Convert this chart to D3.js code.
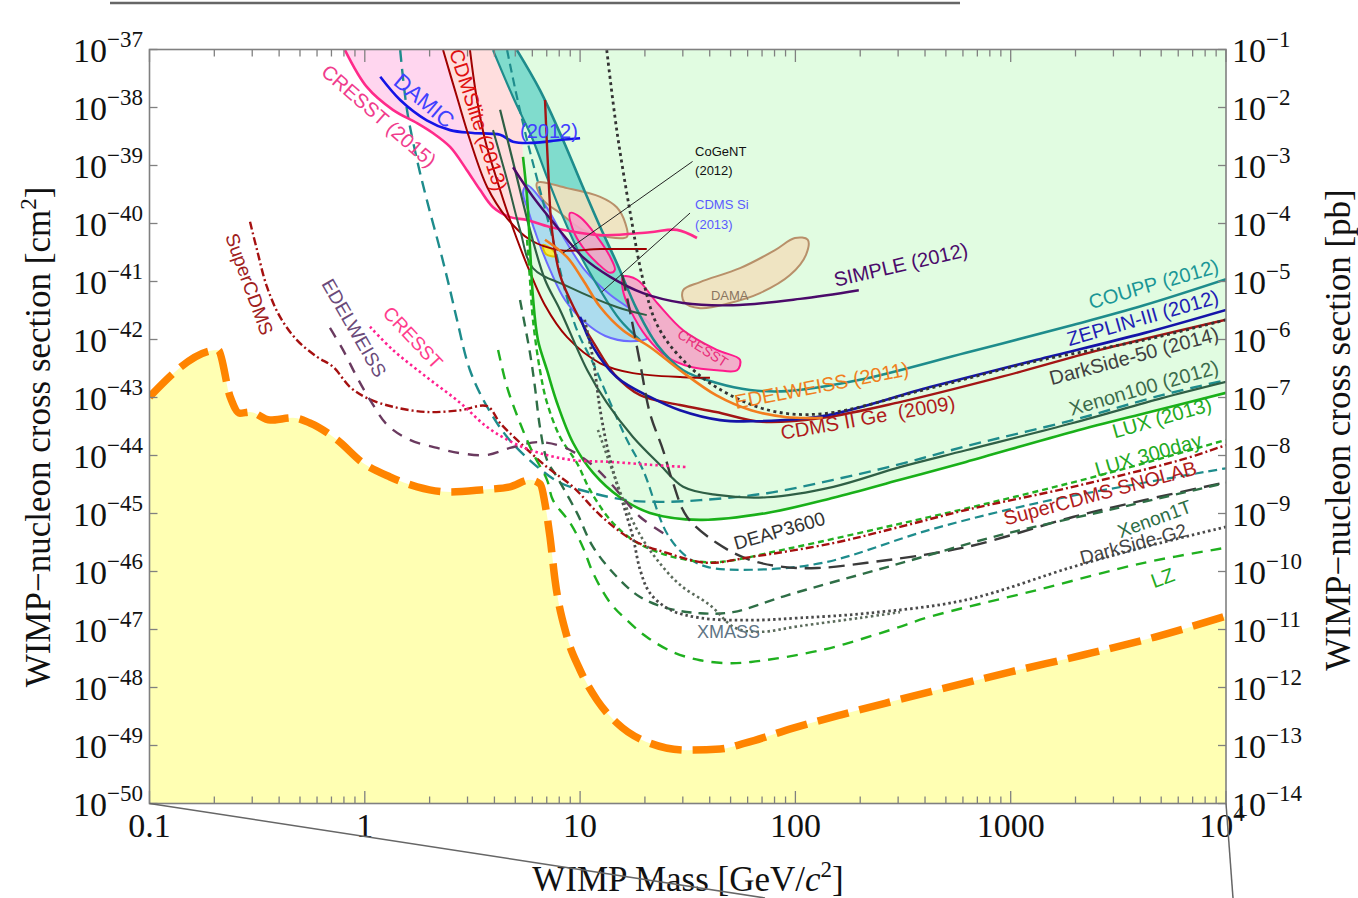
<!DOCTYPE html>
<html><head><meta charset="utf-8">
<script src="https://cdn.jsdelivr.net/npm/d3@7"></script>
<style>body{margin:0;background:#fff}svg{display:block}</style>
</head><body>
<svg id="c" width="1358" height="898"></svg>
<script>
// ---------- DATA : every point is [WIMP mass (GeV), log10 sigma (cm^2)] ----------
const xMajorTicks = [0.1, 1, 10, 100, 1000, 10000];
const xTickLabels = ["0.1", "1", "10", "100", "1000", "10|4"];
const yExpLeft = [-37,-38,-39,-40,-41,-42,-43,-44,-45,-46,-47,-48,-49,-50];
const pbOffset = 36; // 1 pb = 1e-36 cm^2

const neutrinoFloor = [[0.1,-42.99],[0.208,-42.18],[0.237,-42.99],[0.263,-43.27],[0.293,-43.25],[0.363,-43.39],[0.464,-43.35],[0.556,-43.44],[0.743,-43.73],[0.981,-44.13],[1.31,-44.37],[1.75,-44.54],[2.49,-44.63],[3.54,-44.59],[4.73,-44.54],[5.85,-44.42],[6.51,-44.49],[6.95,-44.94],[7.25,-45.41],[7.65,-46.15],[8.70,-47.13],[10.0,-47.70],[12.0,-48.22],[14.8,-48.61],[21.1,-48.96],[31.4,-49.08],[44.7,-49.06],[58.3,-48.96],[97.5,-48.70],[163,-48.47],[275,-48.25],[459,-48.04],[1000,-47.73],[2167,-47.44],[4677,-47.13],[10000,-46.77]];

const cresst2015 = [[0.809,-37.01],[1.024,-37.65],[1.35,-38.04],[1.75,-38.27],[2.07,-38.44],[2.49,-38.68],[2.98,-39.08],[3.43,-39.42],[3.94,-39.72],[4.73,-39.89],[5.67,-39.94],[7.25,-40.06],[12.4,-40.20],[21.1,-40.15],[28.2,-40.11],[34.9,-40.25]];
const cdmsliteA = [[2.31,-37.01],[2.68,-37.82],[3.08,-38.56],[3.70,-39.37],[4.58,-39.91],[5.85,-40.28],[8.07,-40.46],[12.4,-40.44],[20.4,-40.44]];
const cdmsliteB = [[3.08,-37.01],[3.29,-37.78],[3.62,-38.56],[4.11,-39.25],[4.73,-39.94],[5.55,-40.63],[6.87,-41.41],[8.70,-41.96],[12.4,-42.41],[17.6,-42.58],[30.1,-42.65],[40.1,-42.66]];
const greenCorner = [5.26,-37.0];
const lux2013 = [[5.43,-38.85],[5.67,-39.54],[5.85,-40.41],[6.04,-41.27],[6.37,-42.01],[7.02,-42.53],[7.81,-43.09],[9.27,-43.78],[11.5,-44.30],[15.3,-44.72],[21.1,-44.99],[36.1,-45.11],[73.8,-44.99],[150,-44.73],[306,-44.42],[620,-44.11],[1945,-43.59],[4436,-43.25],[10000,-42.92]];
const tealLeft = [[3.94,-37.01],[4.88,-37.82],[6.04,-38.56],[7.02,-39.20],[8.33,-39.89],[10.0,-40.54],[12.4,-41.15],[15.3,-41.66],[19.0,-42.01]];
const coupp2012 = [[5.09,-37.01],[6.51,-37.70],[8.33,-38.56],[10.3,-39.37],[12.4,-40.06],[14.8,-40.68],[18.4,-41.49],[22.8,-42.09],[30.1,-42.53],[43.2,-42.75],[61.5,-42.87],[91.4,-42.89],[197,-42.70],[620,-42.23],[1945,-41.75],[4160,-41.41],[10000,-40.96]];
const tealDashMid = [[4.58,-37.01],[5.09,-37.82],[5.67,-38.56],[6.51,-39.42],[7.48,-40.28],[8.51,-41.15],[9.67,-41.84],[11.5,-42.41],[13.8,-43.09],[16.5,-43.73],[19.6,-44.25],[25.3,-45.34],[31.4,-45.75],[38.9,-45.92],[62.2,-45.97],[134,-45.85],[422,-45.28],[1325,-44.82],[4160,-44.47],[10000,-44.22]];
const tealDashLeft = [[1.46,-37.01],[1.57,-38.04],[1.75,-38.91],[1.94,-39.59],[2.24,-40.46],[2.49,-41.15],[2.68,-41.66],[3.08,-42.53],[3.70,-43.16],[4.58,-43.68],[6.04,-44.13],[8.07,-44.47],[11.5,-44.65],[16.5,-44.77],[23.5,-44.80],[36.1,-44.77],[73.8,-44.65],[150,-44.42],[306,-44.15],[620,-43.84],[1945,-43.39],[5044,-42.96],[10000,-42.70]];
const xenon100 = [[4.25,-38.04],[4.99,-39.08],[5.85,-40.11],[6.87,-40.97],[8.07,-41.49],[10.8,-42.53],[13.3,-43.09],[17.6,-43.68],[23.5,-44.16],[30.1,-44.54],[43.2,-44.68],[73.8,-44.72],[150,-44.54],[306,-44.20],[620,-43.91],[1945,-43.44],[5044,-43.01],[10000,-42.73]];
const darkGreenLow = [[3.94,-38.39],[4.58,-39.25],[5.26,-40.11],[6.04,-40.77],[8.70,-41.08],[14.8,-41.44],[20.4,-41.58]];
const simple2012 = [[4.88,-39.03],[6.04,-39.54],[7.81,-40.06],[10.3,-40.58],[13.8,-40.92],[19.6,-41.20],[30.1,-41.37],[51.3,-41.41],[105,-41.30],[197,-41.15]];
const damic2012 = [[1.18,-37.47],[1.46,-37.87],[1.94,-38.22],[2.49,-38.39],[3.18,-38.44],[4.25,-38.47],[4.88,-38.59],[6.04,-38.61],[8.07,-38.56],[10.0,-38.53]];
const cdms2Ge = [[6.87,-37.87],[7.09,-38.99],[7.40,-40.11],[8.07,-40.89],[9.47,-41.49],[11.7,-42.09],[14.5,-42.61],[19.0,-42.96],[29.1,-43.13],[42.8,-43.25],[70.0,-43.42],[134,-43.35],[306,-43.08],[892,-42.65],[2600,-42.18],[10000,-41.66]];
const zeplin3 = [[10.0,-41.61],[11.5,-42.13],[14.8,-42.65],[21.1,-42.99],[29.1,-43.22],[44.7,-43.39],[62.2,-43.41],[134,-43.32],[422,-42.82],[1325,-42.35],[4160,-41.89],[10000,-41.49]];
const edelweiss2011 = [[6.87,-40.28],[8.70,-40.58],[10.3,-40.97],[12.4,-41.44],[15.8,-41.84],[21.1,-42.13],[29.1,-42.53],[42.8,-42.96],[62.2,-43.22],[91.4,-43.34],[134,-43.35]];
const darkside50 = [[13.3,-37.01],[14.8,-38.39],[17.1,-39.82],[19.6,-40.97],[22.8,-41.75],[29.1,-42.30],[42.8,-42.82],[75.4,-43.22],[134,-43.28],[422,-42.84],[1325,-42.37],[4160,-42.01],[10000,-41.66]];
const deap3600 = [[15.7,-40.89],[17.1,-41.54],[19.0,-42.41],[21.1,-43.27],[24.3,-43.91],[27.0,-44.47],[31.4,-45.06],[43.2,-45.51],[61.5,-45.80],[87.5,-45.92],[126,-45.94],[215,-45.85],[620,-45.58],[1945,-45.06],[4160,-44.77],[10000,-44.46]];
const xenon1T = [[5.26,-41.32],[5.85,-42.23],[6.17,-42.82],[6.51,-43.51],[7.02,-44.08],[7.81,-44.37],[9.67,-44.99],[11.5,-45.58],[14.8,-46.09],[19.0,-46.44],[25.3,-46.63],[36.1,-46.72],[51.3,-46.70],[91.4,-46.41],[287,-45.89],[901,-45.37],[2861,-44.94],[10000,-44.47]];
const lux300 = [[5.67,-40.28],[5.85,-40.97],[6.04,-41.66],[6.51,-42.53],[7.02,-43.09],[8.07,-43.68],[9.67,-44.13],[11.1,-44.59],[13.8,-45.11],[17.6,-45.46],[23.5,-45.68],[31.4,-45.80],[43.2,-45.84],[91.4,-45.61],[287,-45.20],[901,-44.77],[2861,-44.30],[10000,-43.73]];
const superCDMS = [[0.293,-39.97],[0.316,-40.46],[0.351,-41.09],[0.404,-41.61],[0.484,-42.01],[0.600,-42.30],[0.712,-42.47],[0.854,-42.82],[1.024,-43.01],[1.35,-43.16],[1.94,-43.25],[2.77,-43.22],[3.70,-43.15],[4.25,-43.44],[5.26,-43.78],[7.02,-44.20],[9.27,-44.54],[12.4,-45.03],[17.6,-45.46],[25.3,-45.68],[38.9,-45.85],[62.2,-45.75],[150,-45.51],[306,-45.23],[620,-44.94],[1945,-44.54],[6113,-44.08],[10000,-43.82]];
const edelweissLow = [[0.689,-41.80],[0.792,-42.18],[0.920,-42.65],[1.057,-43.04],[1.27,-43.47],[1.62,-43.73],[2.17,-43.87],[2.77,-43.96],[3.70,-43.99],[4.73,-43.87],[6.31,-43.77],[8.33,-43.85],[11.1,-44.13],[13.8,-44.47],[19.0,-45.06],[26.2,-45.41]];
const cresstLow = [[1.057,-41.78],[1.35,-42.18],[1.94,-42.65],[2.77,-43.09],[3.70,-43.51],[4.88,-43.78],[6.51,-43.96],[9.27,-44.08],[13.8,-44.11],[21.1,-44.16],[31.4,-44.20]];
const lz = [[4.16,-42.18],[4.58,-42.82],[5.26,-43.44],[6.04,-43.96],[7.02,-44.42],[7.48,-44.77],[8.98,-45.16],[10.3,-45.58],[11.5,-46.03],[13.8,-46.54],[16.5,-46.84],[20.4,-47.13],[27.0,-47.39],[36.1,-47.53],[48.1,-47.58],[62.2,-47.56],[134,-47.35],[275,-47.01],[422,-46.78],[1325,-46.32],[4160,-45.85],[10000,-45.59]];
const darksideG2 = [[10.5,-41.66],[11.5,-42.35],[12.4,-43.22],[13.8,-44.08],[15.8,-44.82],[17.6,-45.41],[19.0,-45.97],[21.1,-46.37],[26.2,-46.66],[36.1,-46.80],[61.5,-46.84],[105,-46.80],[215,-46.72],[620,-46.49],[1945,-45.92],[4160,-45.58],[10000,-45.23]];
const xmass = [[12.1,-43.56],[14.1,-44.25],[16.2,-44.85],[19.0,-45.37],[22.8,-45.80],[29.1,-46.23],[40.1,-46.58],[52.4,-46.97],[68.5,-47.04],[105,-46.94],[200,-46.80],[306,-46.70]];

// signal regions (closed contours)
const cdmsSiRegion = [[5.67,-39.34],[6.87,-39.68],[8.51,-40.28],[10.5,-40.80],[13.8,-41.23],[18.0,-41.53],[21.1,-41.75],[20.7,-41.97],[17.1,-42.03],[13.1,-41.94],[10.5,-41.70],[8.51,-41.32],[7.25,-40.80],[6.37,-40.28],[5.73,-39.77],[5.43,-39.46]];
const cogentRegion = [[6.72,-40.37],[7.48,-40.46],[7.73,-40.56],[6.95,-40.53]];
const damaLow = [[6.31,-39.30],[8.70,-39.39],[12.4,-39.54],[14.8,-39.72],[16.2,-39.99],[16.5,-40.23],[13.3,-40.23],[10.3,-40.11],[8.07,-39.82],[6.72,-39.59]];
const damaHigh = [[30.1,-41.15],[36.1,-41.01],[55.3,-40.77],[80.4,-40.46],[99.5,-40.25],[114,-40.28],[112,-40.54],[94.4,-40.89],[68.5,-41.20],[49.7,-41.37],[36.1,-41.46],[30.4,-41.35]];
const cresstUpper = [[8.98,-39.82],[10.0,-39.89],[12.0,-40.23],[13.8,-40.58],[14.5,-40.80],[13.8,-40.85],[12.0,-40.68],[10.3,-40.41],[9.27,-40.11]];
const cresstLower = [[15.8,-40.92],[18.4,-40.97],[22.8,-41.37],[30.1,-41.84],[43.2,-42.18],[55.3,-42.35],[53.6,-42.53],[43.2,-42.53],[32.4,-42.47],[25.3,-42.30],[20.4,-41.96],[17.1,-41.49],[15.8,-41.15]];

// labels: [text, mass, log10 sigma, rotation, anchor, colour, size]
const curveLabels = [
  ["COUPP (2012)", 9380, -40.84, -16, "end", "#1a9696", 20],
  ["ZEPLIN-III (2012)", 9380, -41.37, -16, "end", "#2020b4", 20],
  ["DarkSide-50 (2014)", 9380, -42.01, -15, "end", "#404040", 20],
  ["Xenon100 (2012)", 9380, -42.58, -16, "end", "#3b6b4b", 20],
  ["LUX (2013)", 8700, -43.22, -16, "end", "#22aa22", 20],
  ["LUX 300day", 7820, -43.84, -16, "end", "#22aa22", 20],
  ["SuperCDMS SNOLAB", 7410, -44.32, -15, "end", "#b01c1c", 20],
  ["Xenon1T", 7025, -44.97, -20, "end", "#2e6e46", 19],
  ["DarkSide-G2", 6660, -45.39, -15, "end", "#444444", 19],
  ["LZ", 5860, -46.15, -20, "end", "#22aa22", 20],
  ["EDELWEISS (2011)", 53.0, -43.20, -11, "start", "#f07f20", 20],
  ["CDMS II Ge  (2009)", 86.6, -43.73, -10, "start", "#b01c1c", 20],
  ["SIMPLE (2012)", 154, -41.09, -13, "start", "#4b0a6a", 20],
  ["DEAP3600", 53.0, -45.63, -16, "start", "#333333", 19],
  ["XMASS", 34.9, -47.15, 0, "start", "#5f7585", 18],
  ["DAMA", 40.5, -41.32, 0, "start", "#8a7560", 13],
  ["CRESST", 36.1, -42.22, 33, "middle", "#e8307a", 14],
  ["CoGeNT", 34.2, -38.84, 0, "start", "#111111", 13],
  ["(2012)", 34.2, -39.16, 0, "start", "#111111", 13],
  ["CDMS Si", 34.2, -39.75, 0, "start", "#5a5aff", 13],
  ["(2013)", 34.2, -40.09, 0, "start", "#5a5aff", 13],
  ["(2012)", 5.26, -38.53, 0, "start", "#4040ff", 20],
  ["DAMIC", 1.34, -37.59, 40, "start", "#4040ff", 22],
  ["CRESST (2015)", 0.619, -37.42, 41, "start", "#f03c8c", 20],
  ["CDMSlite (2013)", 2.46, -37.04, 72, "start", "#e01010", 20],
  ["SuperCDMS", 0.224, -40.22, 70, "start", "#a02020", 19],
  ["EDELWEISS", 0.626, -41.04, 60, "start", "#6a4a7a", 19],
  ["CRESST", 1.20, -41.56, 47, "start", "#ff3c8c", 19]
];
const leaders = [[[33.3,-38.93],[8.33,-40.51]], [[32.4,-39.82],[12.6,-41.18]]];

// ---------- DRAWING ----------
const svg = d3.select("#c");
const x = d3.scaleLog().domain([0.1, 1e4]).range([149.5, 1226]);
const y = d3.scaleLog().domain([1e-50, 1e-37]).range([803.5, 49.5]);
const X = d => x(d[0]), Y = d => y(Math.pow(10, d[1]));
const serif = "'Liberation Serif','Times New Roman',serif";
const sans = "'Liberation Sans',Arial,Helvetica,sans-serif";

svg.append("defs").append("clipPath").attr("id","plot").append("rect")
  .attr("x",149.5).attr("y",49.5).attr("width",1226-149.5).attr("height",803.5-49.5);
const g = svg.append("g").attr("clip-path","url(#plot)");

const smooth = d3.line().x(X).y(Y).curve(d3.curveCatmullRom.alpha(0.5));
const straightClosed = d3.line().x(X).y(Y).curve(d3.curveLinearClosed);
const blob = d3.line().x(X).y(Y).curve(d3.curveCatmullRomClosed.alpha(0.5));

// fills
g.append("path").datum(neutrinoFloor)
  .attr("d", d3.area().x(X).y0(y(1e-50)).y1(Y).curve(d3.curveMonotoneX))
  .attr("fill","#ffffb3");
g.append("path").datum([greenCorner].concat(lux2013))
  .attr("d", d3.area().x(X).y0(y(1e-37)).y1(Y).curve(d3.curveMonotoneX))
  .attr("fill","#e1fce1");
g.append("path").datum(cresst2015.slice(0,9).concat(cdmsliteA.slice(0,4).reverse()))
  .attr("d", straightClosed).attr("fill","#ffd6ef");
g.append("path").datum([cdmsliteA[0], greenCorner, lux2013[0], lux2013[1]].concat(cresst2015.slice(8,11).reverse()).concat(cdmsliteA.slice(0,4).reverse()))
  .attr("d", straightClosed).attr("fill","#ffdede");
g.append("path").datum(tealLeft.concat(coupp2012.slice(0,7).reverse()))
  .attr("d", straightClosed).attr("fill","#80dccd");

// regions
const regions = [
  [damaLow, "#f1e1bf", "#b8906a"],
  [damaHigh, "#f1e1bf", "#b8906a"],
  [cdmsSiRegion, "#a6d8ef", "#6b6bff"],
  [cogentRegion, "#ffee33", "#e0c000"],
  [cresstUpper, "#f4a6c8", "#ff1a8c"],
  [cresstLower, "#f4a6c8", "#ff1a8c"]
];
regions.forEach(([d, f, s]) => g.append("path").datum(d).attr("d", blob)
  .attr("fill", f).attr("fill-opacity", 0.9).attr("stroke", s).attr("stroke-width", 2));

// curves: [data, colour, width, dash]
const curves = [
  [tealDashLeft, "#1e8c8c", 2.4, "12,7"],
  [tealDashMid, "#1e8c8c", 2.2, "9,5"],
  [tealLeft, "#1e8c8c", 2.2, null],
  [coupp2012, "#1e8c8c", 2.6, null],
  [cresst2015, "#ff2a8a", 2.6, null],
  [damic2012, "#1414e6", 2.6, null],
  [cdmsliteA, "#a00000", 2, null],
  [cdmsliteB, "#a00000", 2, null],
  [darkGreenLow, "#2f5f45", 2, null],
  [xenon100, "#2f5f45", 2.2, null],
  [lux2013, "#19b019", 2.6, null],
  [simple2012, "#4b0a6a", 2.4, null],
  [cdms2Ge, "#a31515", 2.4, null],
  [zeplin3, "#1414a8", 2.6, null],
  [edelweiss2011, "#f27d1e", 2.6, null],
  [darkside50, "#333333", 2.8, "3,3.5"],
  [deap3600, "#3a3a3a", 2.4, "16,8"],
  [xenon1T, "#2e6e46", 2.4, "10,7"],
  [lux300, "#22b022", 2.4, "6,4"],
  [superCDMS, "#a51010", 2.4, "8,3,2,3"],
  [edelweissLow, "#6a3a5f", 2.4, "11,9"],
  [cresstLow, "#ff2090", 2.6, "2.5,3"],
  [lz, "#1fb01f", 2.4, "11,8"],
  [darksideG2, "#4a4a4a", 2.8, "2.5,3"],
  [xmass, "#5a6a5a", 2.6, "2.5,3"]
];
curves.forEach(([d, c, w, dash]) => {
  const p = g.append("path").datum(d).attr("d", smooth).attr("fill","none")
    .attr("stroke", c).attr("stroke-width", w);
  if (dash) p.attr("stroke-dasharray", dash);
});

// neutrino floor
g.append("path").datum(neutrinoFloor)
  .attr("d", d3.line().x(X).y(Y).curve(d3.curveMonotoneX))
  .attr("fill","none").attr("stroke","#ff8400").attr("stroke-width",7.5)
  .attr("stroke-dasharray","32,11");

// leaders
leaders.forEach(l => svg.append("line").attr("x1",X(l[0])).attr("y1",Y(l[0]))
  .attr("x2",X(l[1])).attr("y2",Y(l[1])).attr("stroke","#222").attr("stroke-width",1));

// curve labels
curveLabels.forEach(([t, m, e, r, a, c, s]) => {
  svg.append("text").attr("transform", `translate(${x(m)},${y(Math.pow(10,e))}) rotate(${r})`)
    .attr("text-anchor", a).attr("font-family", sans).attr("font-size", s)
    .attr("fill", c).style("white-space","pre").text(t);
});

// ---------- AXES ----------
const frame = "#808080";
svg.append("rect").attr("x",149.5).attr("y",49.5).attr("width",1226-149.5).attr("height",803.5-49.5)
  .attr("fill","none").attr("stroke",frame).attr("stroke-width",1.6);

const minor = [];
for (let dec = 0.1; dec < 1e4; dec *= 10) for (let k = 2; k <= 9; k++) minor.push(dec*k);
const tk = svg.append("g").attr("stroke", frame).attr("stroke-width", 1.3);
xMajorTicks.forEach(v => {
  tk.append("line").attr("x1",x(v)).attr("x2",x(v)).attr("y1",803.5).attr("y2",791);
  tk.append("line").attr("x1",x(v)).attr("x2",x(v)).attr("y1",49.5).attr("y2",62);
});
minor.forEach(v => {
  tk.append("line").attr("x1",x(v)).attr("x2",x(v)).attr("y1",803.5).attr("y2",796.5);
  tk.append("line").attr("x1",x(v)).attr("x2",x(v)).attr("y1",49.5).attr("y2",56.5);
});
yExpLeft.forEach(e => {
  const yy = y(Math.pow(10, e));
  tk.append("line").attr("x1",149.5).attr("x2",157.5).attr("y1",yy).attr("y2",yy);
  tk.append("line").attr("x1",1226).attr("x2",1218).attr("y1",yy).attr("y2",yy);
});

// tick labels
yExpLeft.forEach(e => {
  const yy = y(Math.pow(10, e));
  const t = svg.append("text").attr("x",143).attr("y",yy+12).attr("text-anchor","end")
    .attr("font-family",serif).attr("font-size",34).attr("fill","#111");
  t.append("tspan").text("10");
  t.append("tspan").attr("dy",-15).attr("font-size",23).text("\u2212" + (-e));
  const t2 = svg.append("text").attr("x",1232).attr("y",yy+12).attr("text-anchor","start")
    .attr("font-family",serif).attr("font-size",34).attr("fill","#111");
  t2.append("tspan").text("10");
  t2.append("tspan").attr("dy",-15).attr("font-size",23).text("\u2212" + (-(e+pbOffset)));
});
xMajorTicks.forEach((v, i) => {
  const parts = xTickLabels[i].split("|");
  const t = svg.append("text").attr("x", x(v) + (parts.length>1 ? -4 : 0)).attr("y",837)
    .attr("text-anchor","middle").attr("font-family",serif).attr("font-size",34).attr("fill","#111");
  t.append("tspan").text(parts[0]);
  if (parts.length > 1) t.append("tspan").attr("dy",-16).attr("font-size",23).text(parts[1]);
});

// axis titles
const xt = svg.append("text").attr("x",688).attr("y",891).attr("text-anchor","middle")
  .attr("font-family",serif).attr("font-size",35).attr("fill","#111");
xt.append("tspan").text("WIMP Mass [GeV/");
xt.append("tspan").attr("font-style","italic").text("c");
xt.append("tspan").attr("dy",-14).attr("font-size",23).text("2");
xt.append("tspan").attr("dy",14).text("]");

function yTitle(cx, cy, unit, sup) {
  const t = svg.append("text").attr("transform",`translate(${cx},${cy}) rotate(-90)`)
    .attr("text-anchor","middle").attr("font-family",serif).attr("font-size",35).attr("fill","#111");
  t.append("tspan").text("WIMP\u2212nucleon cross section [" + unit);
  if (sup) { t.append("tspan").attr("dy",-14).attr("font-size",23).text(sup); t.append("tspan").attr("dy",14).text("]"); }
  else t.append("tspan").text("]");
}
yTitle(50, 437, "cm", "2");
yTitle(1350, 430, "pb", null);

// slide decorations (zoom callout lines)
svg.append("line").attr("x1",110).attr("y1",3).attr("x2",960).attr("y2",3).attr("stroke","#666").attr("stroke-width",2.5);
svg.append("line").attr("x1",x(0.1)).attr("y1",y(1e-50)).attr("x2",765).attr("y2",898).attr("stroke","#666").attr("stroke-width",1.5);
svg.append("line").attr("x1",x(1e4)).attr("y1",y(1e-50)).attr("x2",1233).attr("y2",898).attr("stroke","#666").attr("stroke-width",1.5);
</script>
</body></html>
